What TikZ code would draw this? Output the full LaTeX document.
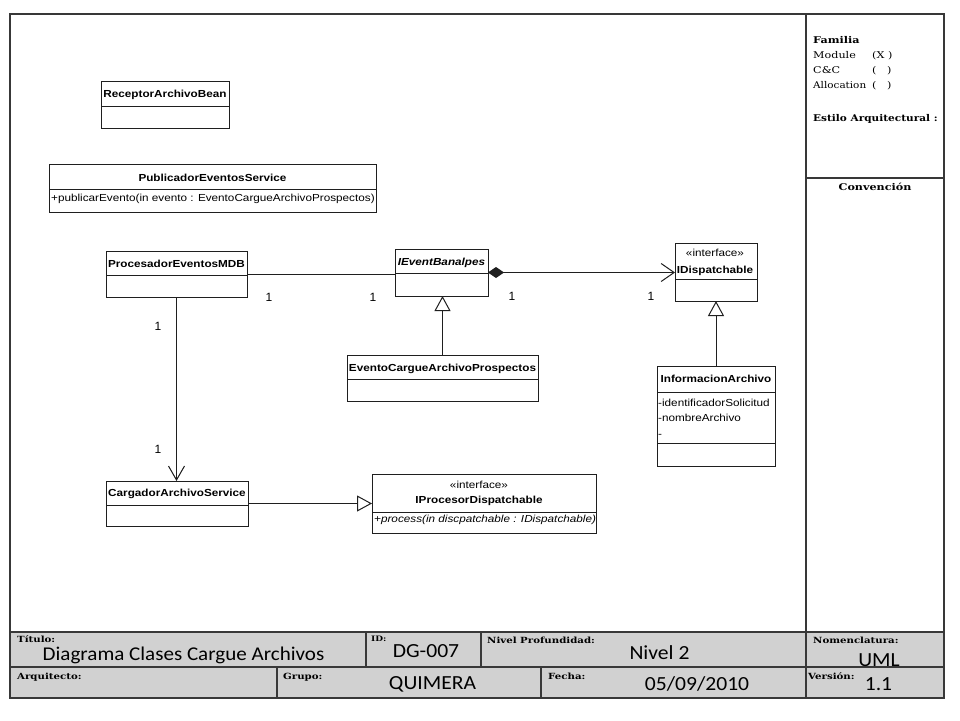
\documentclass[tikz,border=0pt]{standalone}
\usepackage{fontspec}
\usepackage{graphicx}
\setmainfont{Liberation Sans}
\newfontfamily\tbserif{DejaVu Serif}
\newfontfamily\tbcal{Carlito}
\usetikzlibrary{arrows.meta,calc}
\newcommand{\umls}[1]{\scalebox{1.15}[1]{#1}}
\newcommand{\tbs}[1]{\scalebox{1.2}[1]{#1}}
\newcommand{\tbv}[1]{\scalebox{1.08}[1]{#1}}
\begin{document}
\begin{tikzpicture}[x=1pt,y=-1pt,
  frm/.style={draw=black!78,line width=1.4pt},
  cls/.style={draw=black!88,line width=1pt,fill=white,anchor=north west,inner sep=0pt,outer sep=0pt},
  ulab/.style={font=\fontsize{10.2}{12}\selectfont,inner sep=0pt,anchor=base},
  ubold/.style={ulab,font=\fontsize{10.2}{12}\selectfont\bfseries},
  uital/.style={ulab,font=\fontsize{10.2}{12}\selectfont\itshape},
  tlab/.style={font=\tbserif\bfseries\fontsize{8.5}{10}\selectfont,inner sep=0pt,anchor=base west},
  tval/.style={font=\tbcal\fontsize{20}{24}\selectfont,inner sep=0pt,anchor=base},
  rtxt/.style={font=\tbserif\fontsize{9.3}{11}\selectfont,inner sep=0pt,anchor=base west},
  rbold/.style={rtxt,font=\tbserif\bfseries\fontsize{9.3}{11}\selectfont},
  mult/.style={font=\fontsize{12}{14}\selectfont,inner sep=0pt},
  conn/.style={draw=black!88,line width=1pt},
  nav/.style={conn,-{Straight Barb[length=14pt,width=16pt]}},
  gen/.style={conn,-{Triangle[open,length=15pt,width=16pt,fill=white]}},
  comp/.style={conn,{Diamond[length=16pt,width=11pt]}-{Straight Barb[length=13pt,width=18pt]}},
]
\useasboundingbox (0,0) rectangle (960,720);
\fill[white] (0,0) rectangle (960,720);

% title block background and frame
\fill[black!18] (10,632) rectangle (944,698);
\draw[frm] (10,14) rectangle (944,698);
\draw[frm] (806,14) -- (806,632);
\draw[frm] (806,178) -- (944,178);
\draw[frm] (10,632) -- (944,632);
\draw[frm] (10,667) -- (944,667);
\draw[frm] (366,632) -- (366,667);
\draw[frm] (481,632) -- (481,667);
\draw[frm] (806,632) -- (806,698);
\draw[frm] (277,667) -- (277,698);
\draw[frm] (541,667) -- (541,698);

% title block labels
\node[tlab] (lt) at (17,642) {\tbs{Título:}};
\node[tlab,font=\tbserif\bfseries\fontsize{7.5}{9}\selectfont] (lid) at (371,641) {\tbs{ID:}};
\node[tlab] (lnp) at (487,643) {\tbs{Nivel Profundidad:}};
\node[tlab] (lnom) at (813,643) {\tbs{Nomenclatura:}};
\node[tlab] (larq) at (17,679) {\tbs{Arquitecto:}};
\node[tlab] (lgr) at (283,679) {\tbs{Grupo:}};
\node[tlab] (lfe) at (548,679) {\tbs{Fecha:}};
\node[tlab] (lve) at (808,679) {\tbs{Versión:}};

% title block values
\node[tval,font=\tbcal\fontsize{19.5}{22}\selectfont] (vt) at (183.5,660) {\tbv{Diagrama Clases Cargue Archivos}};
\node[tval] (vid) at (426,657) {\tbv{DG-007}};
\node[tval] (vnp) at (659.5,659) {\tbv{Nivel 2}};
\node[tval] (vnom) at (879,666.5) {\tbv{UML}};
\node[tval] (vgr) at (432.5,689) {\tbv{QUIMERA}};
\node[tval] (vfe) at (697,690) {\tbv{05/09/2010}};
\node[tval] (vve) at (878.5,690) {\tbv{1.1}};

% right panel
\node[rbold] (fam) at (813,43) {\tbs{Familia}};
\node[rtxt] (fm1) at (813,58) {\tbs{Module}};
\node[rtxt] (fm1b) at (872,58) {\tbs{(X )}};
\node[rtxt] (fm2) at (813,73) {\tbs{C\&C}};
\node[rtxt] (fm2b) at (872,73) {\tbs{(\ \ \ )}};
\node[rtxt] (fm3) at (813,88) {\scalebox{1.12}[1]{Allocation}};
\node[rtxt] (fm3b) at (872,88) {\tbs{(\ \ \ )}};
\node[rbold] (est) at (813,121) {\scalebox{1.13}[1]{Estilo Arquitectural :}};
\node[rbold,anchor=base] (conv) at (875,190) {\tbs{Convención}};

% classes
\node[cls,minimum width=128pt,minimum height=47pt] (recv) at (101,81) {};
\draw[conn] ($(recv.north west)+(0,25)$) -- ($(recv.north east)+(0,25)$);
\node[ubold] (recvt) at (165,97) {\umls{ReceptorArchivoBean}};

\node[cls,minimum width=327pt,minimum height=48pt] (pub) at (49,164) {};
\draw[conn] ($(pub.north west)+(0,25)$) -- ($(pub.north east)+(0,25)$);
\node[ubold] (pubt) at (212.5,181) {\umls{PublicadorEventosService}};
\node[ulab,anchor=base west] (pubm) at (51,201) {\umls{+publicarEvento(in evento : EventoCargueArchivoProspectos)}};

\node[cls,minimum width=141pt,minimum height=46pt] (proc) at (106,251) {};
\draw[conn] ($(proc.north west)+(0,24)$) -- ($(proc.north east)+(0,24)$);
\node[ubold] (proct) at (176.5,267) {\umls{ProcesadorEventosMDB}};

\node[cls,minimum width=93pt,minimum height=47pt] (iev) at (395,249) {};
\draw[conn] ($(iev.north west)+(0,24)$) -- ($(iev.north east)+(0,24)$);
\node[ubold,font=\fontsize{10.2}{12}\selectfont\bfseries\itshape] (ievt) at (441.5,265) {\umls{IEventBanalpes}};

\node[cls,minimum width=82pt,minimum height=58pt] (idis) at (675,243) {};
\draw[conn] ($(idis.north west)+(0,36)$) -- ($(idis.north east)+(0,36)$);
\node[ulab] (idiss) at (715,256) {\umls{«interface»}};
\node[ubold] (idist) at (715,273) {\umls{IDispatchable}};

\node[cls,minimum width=118pt,minimum height=100pt] (info) at (657,366) {};
\draw[conn] ($(info.north west)+(0,26)$) -- ($(info.north east)+(0,26)$);
\draw[conn] ($(info.north west)+(0,77)$) -- ($(info.north east)+(0,77)$);
\node[ubold] (infot) at (716,382) {\umls{InformacionArchivo}};
\node[ulab,anchor=base west] (infoa) at (658,406) {\umls{-identificadorSolicitud}};
\node[ulab,anchor=base west] (infob) at (658,421.5) {\umls{-nombreArchivo}};
\node[ulab,anchor=base west] (infoc) at (658,437) {\umls{-}};

\node[cls,minimum width=191pt,minimum height=46pt] (evt) at (347,355) {};
\draw[conn] ($(evt.north west)+(0,24)$) -- ($(evt.north east)+(0,24)$);
\node[ubold] (evtt) at (442.5,371) {\umls{EventoCargueArchivoProspectos}};

\node[cls,minimum width=142pt,minimum height=45pt] (carg) at (106,481) {};
\draw[conn] ($(carg.north west)+(0,24)$) -- ($(carg.north east)+(0,24)$);
\node[ubold] (cargt) at (177,496) {\umls{CargadorArchivoService}};

\node[cls,minimum width=224pt,minimum height=59pt] (iproc) at (372,474) {};
\draw[conn] ($(iproc.north west)+(0,38)$) -- ($(iproc.north east)+(0,38)$);
\node[ulab] (iprocs) at (479,488) {\umls{«interface»}};
\node[ubold] (iproct) at (479,503) {\umls{IProcesorDispatchable}};
\node[uital,anchor=base west] (iprocm) at (374,522) {\umls{+process(in discpatchable : IDispatchable)}};

% connectors
\draw[conn] (proc.east) -- (proc.east -| iev.west);
\draw[comp] (iev.east) -- (iev.east -| idis.west);
\draw[gen] (evt.north) -- (evt.north |- iev.south);
\draw[gen] (info.north) -- (info.north |- idis.south);
\draw[nav] (proc.south) -- (proc.south |- carg.north);
\draw[gen] (carg.east) -- (carg.east -| iproc.west);

% multiplicities
\node[mult] (m1) at (269,297) {1};
\node[mult] (m2) at (373,297) {1};
\node[mult] (m3) at (512,296) {1};
\node[mult] (m4) at (651,296) {1};
\node[mult] (m5) at (158,326) {1};
\node[mult] (m6) at (158,449) {1};
\end{tikzpicture}
\end{document}
